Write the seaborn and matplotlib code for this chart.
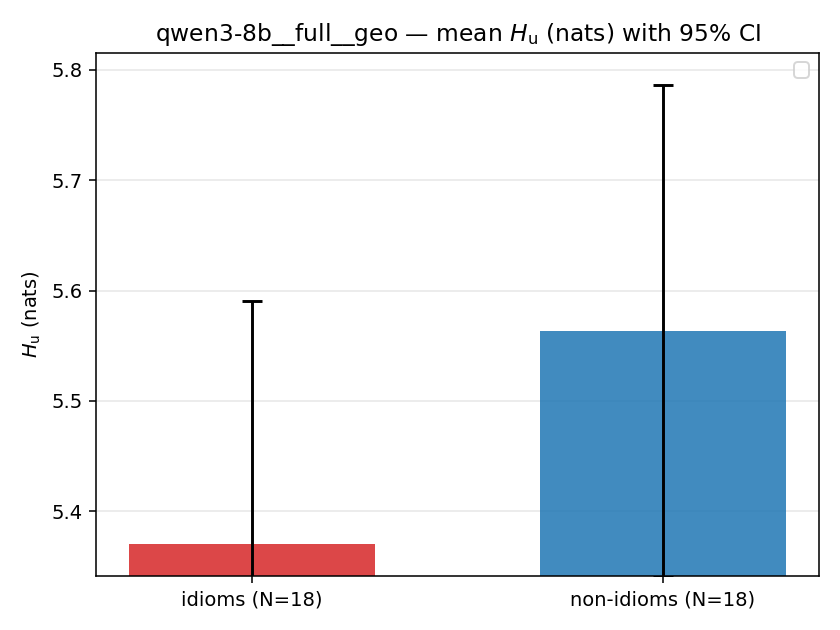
import numpy as np
import pandas as pd
import seaborn as sns
import matplotlib
matplotlib.use('Agg')
import matplotlib.pyplot as plt

labels = ['idioms (N=18)', 'non-idioms (N=18)']
means = [5.370, 5.5636]
ci_half = [0.2209, 0.2228]
colors = ['#d62728', '#1f77b4']

df = pd.DataFrame({'group': labels, 'H_u': means})

fig, ax = plt.subplots(figsize=(6, 4.5), dpi=140)
sns.barplot(data=df, x='group', y='H_u', hue='group', palette=colors,
            saturation=1, alpha=0.85, width=0.6, legend=False, errorbar=None, ax=ax)
ax.errorbar(np.arange(len(labels)), means, yerr=ci_half, fmt='none',
            ecolor='black', elinewidth=1.5, capsize=5, capthick=1.5, zorder=3)
ax.set_ylim(5.341, 5.8155)
ax.set_xlabel('')
ax.set_ylabel(r'$H_\mathrm{u}$ (nats)')
ax.set_title(r'qwen3-8b__full__geo — mean $H_\mathrm{u}$ (nats) with 95% CI', fontsize=12)
ax.yaxis.grid(True, alpha=0.3)
ax.set_axisbelow(True)
ax.legend()
plt.tight_layout()
plt.savefig('out.png')
